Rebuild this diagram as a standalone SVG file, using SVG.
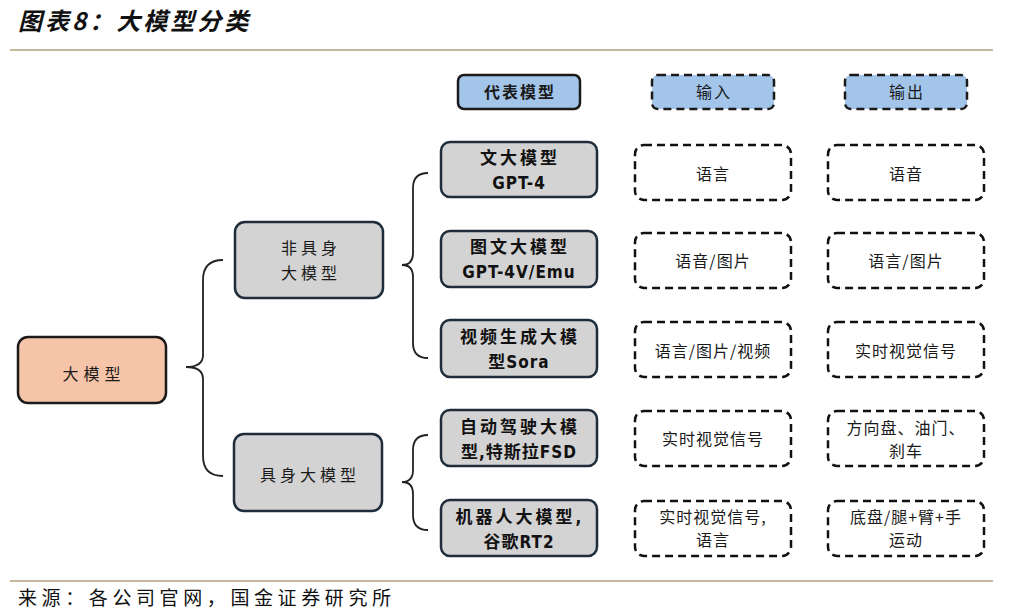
<svg xmlns="http://www.w3.org/2000/svg" width="1011" height="615" viewBox="0 0 1011 615">
<style>
.cjk{font-family:"Noto Sans CJK SC","Noto Sans",sans-serif}
.t{font-family:"Noto Sans CJK SC",sans-serif;font-size:16px;fill:#1a1a1a;text-anchor:middle}
.b{font-family:"Liberation Sans Narrow","DejaVu Sans Condensed","Noto Sans CJK SC",sans-serif;font-weight:bold;font-size:17px;fill:#111;text-anchor:middle;letter-spacing:1px}
.bs{letter-spacing:3px}
.grey{fill:#d3d3d3;stroke:#1f2d3a;stroke-width:2.5}
.dash{fill:#fff;stroke:#111;stroke-width:2.5;stroke-dasharray:8 5}
.hdr{fill:#a3c5ea;stroke:#1a1a1a;stroke-width:2.5}
.brace{fill:none;stroke:#222;stroke-width:1.8}
.rule{stroke:#b59f7b;stroke-width:1.5}
</style>
<rect width="1011" height="615" fill="#fff"/>
<text x="18" y="30" class="cjk" font-size="24" font-weight="bold" font-style="italic" fill="#111" letter-spacing="3">图表8：大模型分类</text>
<line class="rule" x1="10" y1="50" x2="993" y2="50"/>
<line class="rule" x1="10" y1="581" x2="993" y2="581"/>
<text x="18" y="605" class="cjk" font-size="19" fill="#111" letter-spacing="4.6">来源：各公司官网，国金证券研究所</text>

<g id="connectors">
<path class="brace" d="M223,260 Q203,260 203,280 L203,355 Q203,367 186,367 Q203,367 203,379 L203,456 Q203,476 223,476"/>
<path class="brace" d="M428,173 Q413,173 413,188 L413,253 Q413,265 402,265 Q413,265 413,277 L413,343 Q413,358 428,358"/>
<path class="brace" d="M428,435 Q413,435 413,450 L413,470 Q413,482 402,482 Q413,482 413,494 L413,515 Q413,530 428,530"/>
</g>

<g id="root"><rect x="18" y="337" width="148" height="66" rx="10" fill="#f6c5a9" stroke="#1a1a1a" stroke-width="2.5"/>
<text x="94" y="380" class="t" font-size="21" letter-spacing="5">大模型</text></g>

<g id="nonembodied"><rect class="grey" x="235" y="222" width="148" height="76" rx="10"/>
<text x="311" y="254" class="t" font-size="18" letter-spacing="4">非具身</text>
<text x="311" y="279" class="t" font-size="18" letter-spacing="4">大模型</text></g>

<g id="embodied"><rect class="grey" x="234" y="434" width="148" height="77" rx="10"/>
<text x="310" y="481" class="t" font-size="18" letter-spacing="4">具身大模型</text></g>

<g id="hdr-model"><rect class="hdr" x="458" y="75" width="122" height="34" rx="6"/>
<text x="520" y="98" class="t" font-size="15" font-weight="bold" letter-spacing="2">代表模型</text></g>
<g id="hdr-in"><rect class="hdr" x="652" y="75" width="122" height="34" rx="6" stroke-dasharray="8 5"/>
<text x="714" y="98" class="t" font-size="15" letter-spacing="2">输入</text></g>
<g id="hdr-out"><rect class="hdr" x="845" y="75" width="122" height="34" rx="6" stroke-dasharray="8 5"/>
<text x="907" y="98" class="t" font-size="15" letter-spacing="2">输出</text></g>

<g id="m1"><rect class="grey" x="441" y="142" width="156" height="55" rx="9"/>
<text x="520" y="164" class="b bs">文大模型</text><text x="519" y="189" class="b">GPT-4</text></g>
<g id="m2"><rect class="grey" x="441" y="231" width="156" height="56" rx="9"/>
<text x="520" y="253" class="b bs">图文大模型</text><text x="519" y="278" class="b">GPT-4V/Emu</text></g>
<g id="m3"><rect class="grey" x="441" y="320" width="156" height="57" rx="9"/>
<text x="520" y="343" class="b bs">视频生成大模</text><text x="519" y="368" class="b">型Sora</text></g>
<g id="m4"><rect class="grey" x="441" y="410" width="156" height="56" rx="9"/>
<text x="520" y="433" class="b bs">自动驾驶大模</text><text x="519" y="458" class="b">型,特斯拉FSD</text></g>
<g id="m5"><rect class="grey" x="441" y="500" width="156" height="56" rx="9"/>
<text x="520" y="523" class="b bs">机器人大模型,</text><text x="519" y="548" class="b">谷歌RT2</text></g>

<g id="i1"><rect class="dash" x="635" y="145" width="156" height="55" rx="9"/><text x="713" y="180" class="t" font-size="15" letter-spacing="1">语言</text></g>
<g id="i2"><rect class="dash" x="635" y="233" width="156" height="55" rx="9"/><text x="713" y="267" class="t" font-size="15" letter-spacing="1">语音/图片</text></g>
<g id="i3"><rect class="dash" x="635" y="322" width="156" height="55" rx="9"/><text x="713" y="357" class="t" font-size="15" letter-spacing="1">语言/图片/视频</text></g>
<g id="i4"><rect class="dash" x="635" y="411" width="156" height="55" rx="9"/><text x="713" y="445" class="t" font-size="15" letter-spacing="1">实时视觉信号</text></g>
<g id="i5"><rect class="dash" x="635" y="501" width="156" height="55" rx="9"/><text x="713" y="523" class="t" font-size="15" letter-spacing="1">实时视觉信号,</text><text x="713" y="546" class="t" font-size="15" letter-spacing="1">语言</text></g>

<g id="o1"><rect class="dash" x="828" y="145" width="156" height="55" rx="9"/><text x="906" y="180" class="t" font-size="15" letter-spacing="1">语音</text></g>
<g id="o2"><rect class="dash" x="828" y="233" width="156" height="55" rx="9"/><text x="906" y="267" class="t" font-size="15" letter-spacing="1">语言/图片</text></g>
<g id="o3"><rect class="dash" x="828" y="322" width="156" height="55" rx="9"/><text x="906" y="357" class="t" font-size="15" letter-spacing="1">实时视觉信号</text></g>
<g id="o4"><rect class="dash" x="828" y="411" width="156" height="55" rx="9"/><text x="906" y="434" class="t" font-size="15" letter-spacing="1">方向盘、油门、</text><text x="906" y="457" class="t" font-size="15" letter-spacing="1">刹车</text></g>
<g id="o5"><rect class="dash" x="828" y="501" width="156" height="55" rx="9"/><text x="906" y="523" class="t" font-size="15" letter-spacing="1">底盘/腿+臂+手</text><text x="906" y="546" class="t" font-size="15" letter-spacing="1">运动</text></g>
</svg>
